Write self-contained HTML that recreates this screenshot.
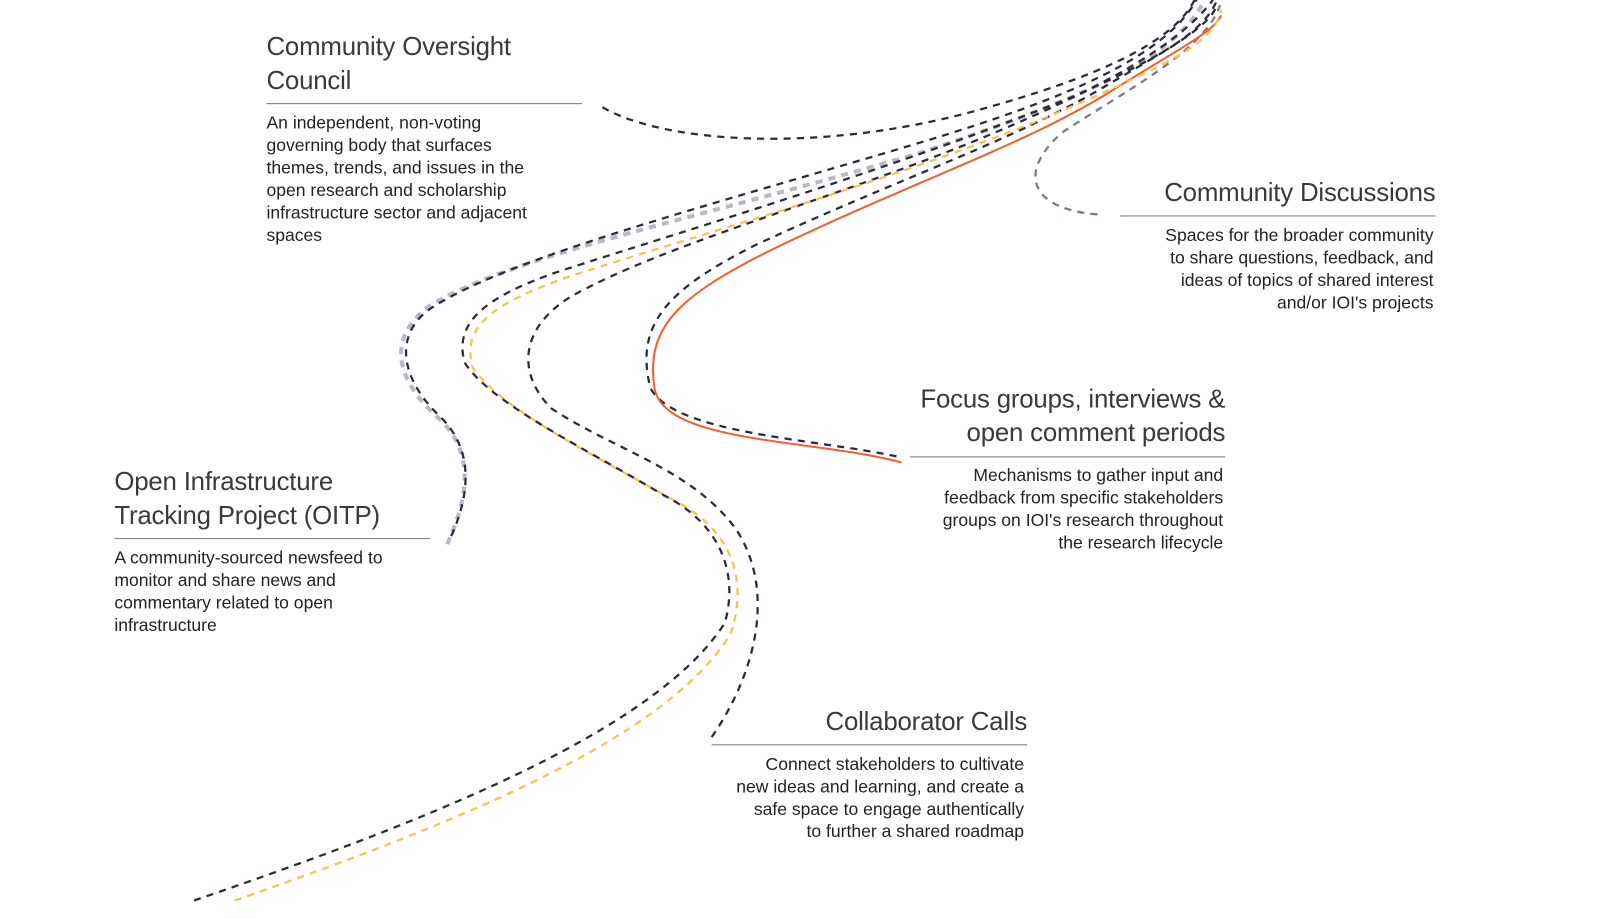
<!DOCTYPE html>
<html><head><meta charset="utf-8"><style>
body{margin:0;width:1600px;height:900px;background:#fff;position:relative;overflow:hidden;font-family:"Liberation Sans",sans-serif;color:#222}
#w{position:absolute;left:0;top:0;width:1600px;height:900px;transform:scale(1.021);transform-origin:0 0}
.h{position:absolute;font-size:25.3px;line-height:33px;color:#3a3a3a;font-weight:normal;letter-spacing:-0.2px;white-space:nowrap}
.r{position:absolute;height:1px;background:#777}
.b{position:absolute;font-size:17.2px;line-height:22px;color:#222;white-space:nowrap}
.ra{text-align:right}
svg{position:absolute;left:0;top:0}
</style></head><body><div id="w">
<svg width="1600" height="900" fill="none" stroke-width="2.2">
<path d="M590,105 C650,140 800,150 950,110 C1080,75 1150,40 1170,0" stroke="#2a2a3a" stroke-dasharray="7,6"/>
<path d="M1075,210 C1010,205 995,170 1040,130 C1100,90 1180,50 1195,5" stroke="#7a7a8c" stroke-dasharray="7,6"/>
<path d="M438,533 C462,480 462,440 430,410 C385,370 380,330 420,300 C500,250 700,210 900,150 C1050,100 1150,60 1180,0" stroke="#b8b8c8" stroke-width="4" stroke-dasharray="7,6"/>
<path d="M442,525 C462,480 462,440 433,410 C390,370 385,325 425,300 C505,250 700,200 900,140 C1050,95 1140,55 1172,0" stroke="#2a2a3a" stroke-dasharray="7,6"/>
<path d="M878,447 C800,430 660,425 637,380 C622,320 650,285 740,240 C880,175 1000,135 1090,80 C1150,45 1185,25 1192,5" stroke="#2a2a3a" stroke-dasharray="7,6"/>
<path d="M883,453 C800,430 650,435 641,380 C632,320 665,290 755,245 C900,175 1010,140 1095,85 C1160,45 1190,30 1196,15" stroke="#f06030" stroke-width="2"/>
<path d="M697,722 C740,660 760,580 722,520 C680,460 600,440 540,400 C505,365 510,320 560,290 C650,240 800,200 950,140 C1060,95 1150,50 1188,0" stroke="#2a2a3a" stroke-dasharray="7,6"/>
<path d="M230,882 C420,815 650,730 716,620 C735,560 710,515 660,490 C580,445 490,400 463,360 C452,320 480,298 560,270 C700,225 900,170 1060,100 C1150,60 1190,40 1196,10" stroke="#f2c453" stroke-dasharray="7,6"/>
<path d="M190,882 C400,810 640,720 710,610 C725,555 700,510 650,485 C575,440 480,395 455,355 C445,318 470,292 550,265 C690,220 890,160 1050,95 C1140,55 1180,30 1192,0" stroke="#2a2a3a" stroke-dasharray="7,6"/>
</svg>

<div class="h" style="left:261px;top:30px">Community Oversight<br>Council</div>
<div class="r" style="left:261px;top:101px;width:309px"></div>
<div class="b" style="left:261px;top:109px">An independent, non-voting<br>governing body that surfaces<br>themes, trends, and issues in the<br>open research and scholarship<br>infrastructure sector and adjacent<br>spaces</div>

<div class="h ra" style="right:194px;top:173px">Community Discussions</div>
<div class="r" style="left:1097px;top:211px;width:309px"></div>
<div class="b ra" style="right:196px;top:219px">Spaces for the broader community<br>to share questions, feedback, and<br>ideas of topics of shared interest<br>and/or IOI's projects</div>

<div class="h ra" style="right:400px;top:375px">Focus groups, interviews &amp;<br>open comment periods</div>
<div class="r" style="left:891px;top:447px;width:309px"></div>
<div class="b ra" style="right:402px;top:454px">Mechanisms to gather input and<br>feedback from specific stakeholders<br>groups on IOI's research throughout<br>the research lifecycle</div>

<div class="h" style="left:112px;top:456px">Open Infrastructure<br>Tracking Project (OITP)</div>
<div class="r" style="left:112px;top:527px;width:309px"></div>
<div class="b" style="left:112px;top:535px">A community-sourced newsfeed to<br>monitor and share news and<br>commentary related to open<br>infrastructure</div>

<div class="h ra" style="right:594px;top:691px">Collaborator Calls</div>
<div class="r" style="left:697px;top:729px;width:309px"></div>
<div class="b ra" style="right:597px;top:737px">Connect stakeholders to cultivate<br>new ideas and learning, and create a<br>safe space to engage authentically<br>to further a shared roadmap</div>
</div></body></html>
